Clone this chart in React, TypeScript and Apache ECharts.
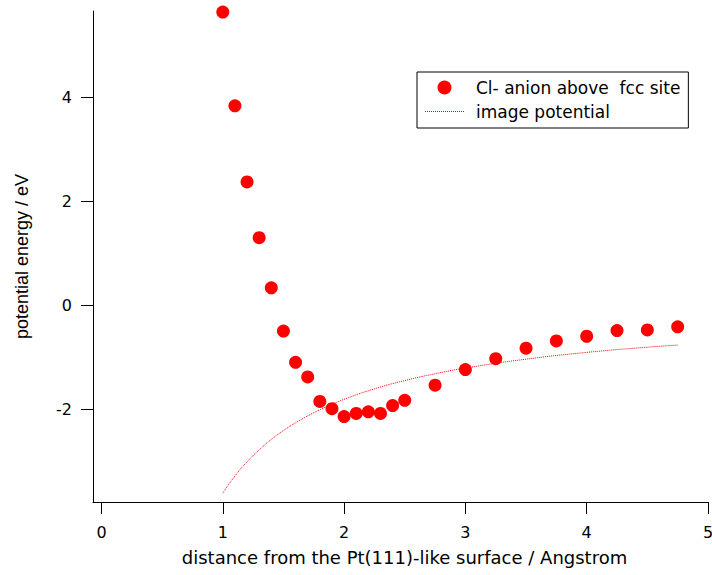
import React, { useEffect, useRef } from "react";
import * as echarts from "echarts";

const distances = [1.0, 1.1, 1.2, 1.3, 1.4, 1.5, 1.6, 1.7, 1.8, 1.9, 2.0, 2.1, 2.2, 2.3, 2.4, 2.5, 2.75, 3.0, 3.25, 3.5, 3.75, 4.0, 4.25, 4.5, 4.75];
const energies = [5.63, 3.83, 2.37, 1.3, 0.34, -0.49, -1.09, -1.37, -1.84, -1.98, -2.13, -2.07, -2.04, -2.07, -1.92, -1.82, -1.53, -1.23, -1.02, -0.82, -0.68, -0.59, -0.48, -0.47, -0.41];

const imageX = [1.0, 1.1, 1.2, 1.3, 1.4, 1.5, 1.6, 1.8, 2.0, 2.25, 2.5, 2.75, 3.0, 3.5, 4.0, 4.5, 4.75];
const imageY = [-3.6, -3.27, -3.0, -2.77, -2.57, -2.4, -2.25, -2.0, -1.8, -1.6, -1.44, -1.31, -1.2, -1.03, -0.9, -0.8, -0.76];

const xTicks = [0, 1, 2, 3, 4, 5];
const yTicks = [-2, 0, 2, 4];

const seriesNames = ["Cl- anion above  fcc site", "image potential"];
const xTitle = "distance from the Pt(111)-like surface / Angstrom";
const yTitle = "potential energy / eV";

const FONT = "DejaVu Sans";
const FONT_Y = "Liberation Sans";

export default function App() {
  const ref = useRef<HTMLDivElement>(null);
  useEffect(() => {
    if (!ref.current) return;
    const chart = echarts.init(ref.current, null, { renderer: "svg" });
    const axisCommon = {
      type: "value" as const,
      axisLine: { show: true, onZero: false, lineStyle: { color: "#000", width: 1 } },
      splitLine: { show: false },
      nameLocation: "middle" as const,
    };
    chart.setOption({
      animation: false,
      backgroundColor: "#fff",
      textStyle: { fontFamily: FONT },
      grid: { left: 93, right: 4, top: 11, bottom: 73, outerBoundsMode: "none", containLabel: false },
      xAxis: {
        ...axisCommon,
        min: -0.07,
        max: 5.0,
        name: xTitle,
        nameGap: 46,
        nameTextStyle: { fontFamily: FONT, fontSize: 18, color: "#000", padding: [0, 0, 0, 8] },
        axisTick: { show: true, length: 12, customValues: xTicks, lineStyle: { color: "#000" } },
        axisLabel: { customValues: xTicks, margin: 22, fontFamily: FONT, fontSize: 16, color: "#000", formatter: (v: number) => String(v) },
      },
      yAxis: {
        ...axisCommon,
        min: -3.77,
        max: 5.65,
        name: yTitle,
        nameGap: 62,
        nameTextStyle: { fontFamily: FONT_Y, fontSize: 18, color: "#000" },
        axisTick: { show: true, length: 12, customValues: yTicks, lineStyle: { color: "#000" } },
        axisLabel: { customValues: yTicks, margin: 21, fontFamily: FONT, fontSize: 16, color: "#000", formatter: (v: number) => String(v) },
      },
      legend: {
        orient: "vertical",
        left: 417,
        top: 72,
        itemWidth: 39,
        itemHeight: 14,
        itemGap: 7,
        padding: [7, 8, 8, 8],
        borderColor: "#000",
        borderWidth: 1,
        backgroundColor: "#fff",
        textStyle: { fontFamily: FONT, fontSize: 17, color: "#000", padding: [0, 0, 0, 7] },
        data: [
          { name: seriesNames[0], icon: "circle", itemStyle: { color: "#ff0000", opacity: 1 } },
          { name: seriesNames[1], icon: "rect", itemStyle: { color: "#ff0000", opacity: 0 } },
        ],
      },
      graphic: [
        {
          type: "line",
          z: 100,
          silent: true,
          shape: { x1: 425, y1: 111.5, x2: 464, y2: 111.5 },
          style: { stroke: "#ff0000", lineWidth: 1, lineDash: [1, 1] },
        },
      ],
      series: [
        {
          name: seriesNames[0],
          type: "scatter",
          symbol: "circle",
          symbolSize: 13,
          clip: false,
          itemStyle: { color: "#ff0000", opacity: 1 },
          data: distances.map((d, i) => [d, energies[i]]),
          z: 3,
        },
        {
          name: seriesNames[1],
          type: "line",
          smooth: true,
          symbol: "none",
          showSymbol: false,
          color: "#ff0000",
          itemStyle: { color: "#ff0000" },
          lineStyle: { color: "#ff0000", width: 1, type: "dotted" },
          data: imageX.map((d, i) => [d, imageY[i]]),
          z: 2,
        },
      ],
    });
    return () => chart.dispose();
  }, []);
  return <div ref={ref} style={{ position: "fixed", left: 0, top: 0, width: 712, height: 575 }} />;
}
